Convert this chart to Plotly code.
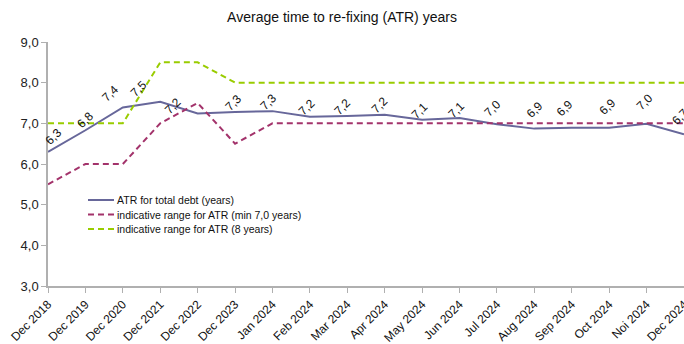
import plotly.graph_objects as go

# Reporting periods
periods = ["Dec 2018", "Dec 2019", "Dec 2020", "Dec 2021", "Dec 2022", "Dec 2023",
           "Jan 2024", "Feb 2024", "Mar 2024", "Apr 2024", "May 2024", "Jun 2024",
           "Jul 2024", "Aug 2024", "Sep 2024", "Oct 2024", "Noi 2024", "Dec 2024"]

# Average time to re-fixing for total debt (years)
atr_total = [6.30, 6.83, 7.39, 7.53, 7.24, 7.28, 7.30, 7.16, 7.18, 7.21, 7.09, 7.13,
             6.98, 6.87, 6.89, 6.89, 6.99, 6.73]

# Indicative ranges (years)
range_min = [5.5, 6.0, 6.0, 7.0, 7.5, 6.5, 7.0, 7.0, 7.0, 7.0, 7.0, 7.0,
             7.0, 7.0, 7.0, 7.0, 7.0, 7.0]
range_max = [7.0, 7.0, 7.0, 8.5, 8.5, 8.0, 8.0, 8.0, 8.0, 8.0, 8.0, 8.0,
             8.0, 8.0, 8.0, 8.0, 8.0, 8.0]

y_ticks = [3.0, 4.0, 5.0, 6.0, 7.0, 8.0, 9.0]

series_names = ["ATR for total debt (years)",
                "indicative range for ATR (min 7,0 years)",
                "indicative range for ATR (8 years)"]
series_colors = ["#67679a", "#a3336b", "#99cc00"]
series_dash = ["solid", "6px,4px", "6px,4px"]

# Pixel offsets of the value labels relative to their points
label_dx = [5, 0, -12, -22, -25, -2, -4, -3, -5, -5, -3, -3, -4, 0, -7, -2, -2, -4]
label_dy = [-15, -10, -14, -13, -8, -9, -9, -10, -9, -10, -9, -8, -16, -19, -20, -21, -22, -17]

FONT = "Liberation Sans, Arial, sans-serif"
W, H = 684, 344
ML, MR, MT, MB = 48, 0, 42, 58
PW, PH = W - ML - MR, H - MT - MB


def fmt(v):
    return f"{v:.1f}".replace(".", ",")


def px_x(px):
    return (px - ML) / PW


def px_y(py):
    return (H - MB - py) / PH


fig = go.Figure()

for name, ys, col, dash in zip(series_names, [atr_total, range_min, range_max],
                               series_colors, series_dash):
    fig.add_trace(go.Scatter(
        x=periods, y=ys, mode="lines", name=name, showlegend=False,
        line=dict(color=col, width=2, dash=dash), cliponaxis=False))

for i, (p, v) in enumerate(zip(periods, atr_total)):
    fig.add_annotation(
        x=p, y=v, text=fmt(v), showarrow=False, textangle=-45,
        xanchor="center", yanchor="middle",
        xshift=label_dx[i], yshift=-label_dy[i],
        font=dict(family=FONT, size=12, color="#111111"))

# Legend block drawn inside the plot area
for k, (name, col, dash) in enumerate(zip(series_names, series_colors, series_dash)):
    row_y = px_y(200 + 14.5 * k)
    fig.add_shape(type="line", xref="paper", yref="paper",
                  x0=px_x(88), x1=px_x(114), y0=row_y, y1=row_y,
                  line=dict(color=col, width=2, dash=dash))
    fig.add_annotation(xref="paper", yref="paper", x=px_x(115), y=row_y,
                       text=name, showarrow=False, xanchor="left", yanchor="middle",
                       font=dict(family=FONT, size=10.5, color="#111111"))

fig.update_layout(
    width=W, height=H,
    margin=dict(l=ML, r=MR, t=MT, b=MB),
    paper_bgcolor="white", plot_bgcolor="white",
    title=dict(text="Average time to re-fixing (ATR) years", x=0.5, xanchor="center",
               y=0.95, yanchor="middle",
               font=dict(family=FONT, size=14, color="#111111")),
    font=dict(family=FONT, color="#222222"),
    showlegend=False,
)

fig.update_xaxes(
    type="category", range=[0, len(periods) - 1], tickangle=-45,
    showline=True, linecolor="#b0b0b0", linewidth=1.5,
    ticks="outside", tickcolor="#b0b0b0", ticklen=5, tickwidth=1,
    automargin=False,
    showgrid=False, zeroline=False,
    tickfont=dict(size=12, color="#111111"))

fig.update_yaxes(
    range=[3.0, 9.0], tickvals=y_ticks, ticktext=[fmt(t) for t in y_ticks],
    showline=True, linecolor="#b0b0b0", linewidth=1.5,
    ticks="outside", tickcolor="#b0b0b0", ticklen=5, tickwidth=1,
    automargin=False,
    showgrid=False, zeroline=False,
    tickfont=dict(size=13, color="#222222"))

fig.write_html("out.html")
